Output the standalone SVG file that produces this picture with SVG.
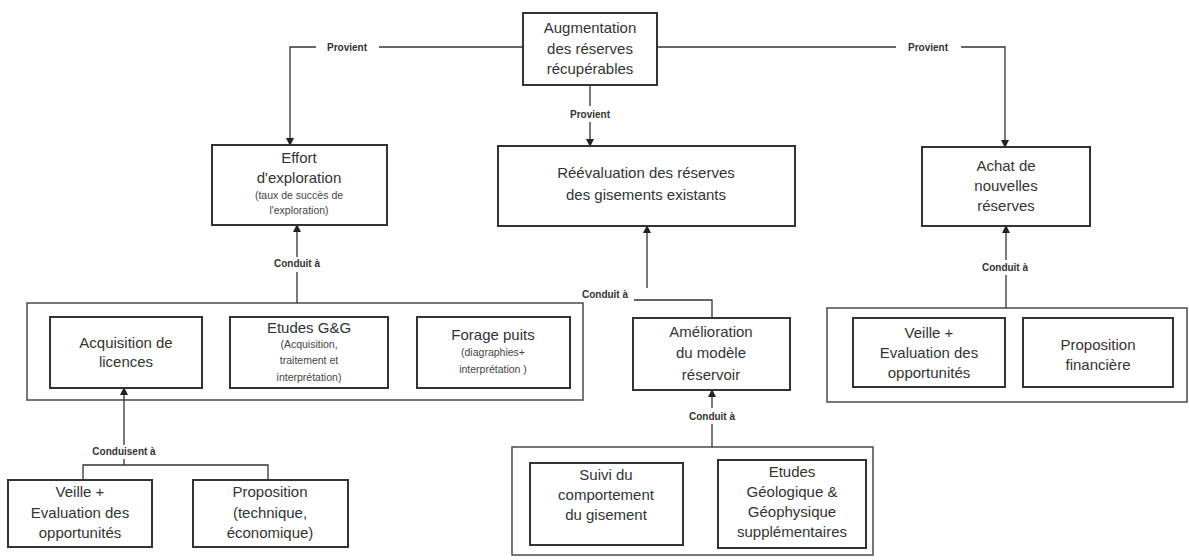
<svg xmlns="http://www.w3.org/2000/svg" width="1189" height="560" viewBox="0 0 1189 560">
<style>
.box{fill:#fff;stroke:#333;stroke-width:2}
.grp{fill:none;stroke:#555;stroke-width:1.6}
.t{font-family:"Liberation Sans",Arial,sans-serif;font-size:15px;fill:#333;text-anchor:middle}
.s{font-family:"Liberation Sans",Arial,sans-serif;font-size:10.5px;fill:#444;text-anchor:middle}
.lbl{font-family:"Liberation Sans",Arial,sans-serif;font-size:10px;font-weight:bold;fill:#333;text-anchor:middle}
.ln{fill:none;stroke:#333;stroke-width:1.3}
</style>
<defs>
<marker id="ah" markerWidth="8" markerHeight="8" refX="7" refY="4" orient="auto" markerUnits="userSpaceOnUse">
<path d="M0,0 L8,4 L0,8 z" fill="#222"/>
</marker>
</defs>
<rect width="1189" height="560" fill="#fff"/>

<g id="g-left">
<rect class="grp" x="27" y="303" width="556" height="97"/>
</g>
<g id="g-middle">
<rect class="grp" x="512" y="447" width="361" height="108"/>
</g>
<g id="g-right">
<rect class="grp" x="827" y="308" width="360" height="94"/>
</g>

<g id="connectors">
<polyline class="ln" points="523,47 379,47"/>
<polyline class="ln" points="316,47 290,47 290,145" marker-end="url(#ah)"/>
<polyline class="ln" points="657,47 896,47"/>
<polyline class="ln" points="961,47 1005,47 1005,147" marker-end="url(#ah)"/>
<polyline class="ln" points="590,85 590,106"/>
<polyline class="ln" points="590,122 590,146" marker-end="url(#ah)"/>
<polyline class="ln" points="297,303 297,272"/>
<polyline class="ln" points="297,257 297,225" marker-end="url(#ah)"/>
<polyline class="ln" points="712,318 712,300 634,300"/>
<polyline class="ln" points="647,288 647,226" marker-end="url(#ah)"/>
<polyline class="ln" points="712,447 712,424"/>
<polyline class="ln" points="712,408 712,390" marker-end="url(#ah)"/>
<polyline class="ln" points="1006,308 1006,275"/>
<polyline class="ln" points="1006,260 1006,226" marker-end="url(#ah)"/>
<polyline class="ln" points="124,445 124,388" marker-end="url(#ah)"/>
<polyline class="ln" points="83,480 83,465 268,465 268,480"/>
<polyline class="ln" points="124,459 124,465"/>
<text class="lbl" x="347" y="51">Provient</text>
<text class="lbl" x="928" y="51">Provient</text>
<text class="lbl" x="590" y="118">Provient</text>
<text class="lbl" x="297" y="267">Conduit à</text>
<text class="lbl" x="605" y="298">Conduit à</text>
<text class="lbl" x="712" y="420">Conduit à</text>
<text class="lbl" x="1005" y="271">Conduit à</text>
<text class="lbl" x="124" y="455">Conduisent à</text>
</g>

<g id="n-augmentation">
<rect class="box" x="523" y="13" width="134" height="72"/>
<text class="t" x="590" y="33">Augmentation</text>
<text class="t" x="590" y="54">des réserves</text>
<text class="t" x="590" y="74">récupérables</text>
</g>

<g id="n-effort">
<rect class="box" x="212" y="145" width="175" height="80"/>
<text class="t" x="299" y="163">Effort</text>
<text class="t" x="299" y="183">d'exploration</text>
<text class="s" x="299" y="199">(taux de succès de</text>
<text class="s" x="299" y="214">l'exploration)</text>
</g>

<g id="n-reevaluation">
<rect class="box" x="498" y="146" width="297" height="80"/>
<text class="t" x="646" y="178">Réévaluation des réserves</text>
<text class="t" x="646" y="200">des gisements existants</text>
</g>

<g id="n-achat">
<rect class="box" x="922" y="147" width="168" height="79"/>
<text class="t" x="1006" y="171">Achat de</text>
<text class="t" x="1006" y="191">nouvelles</text>
<text class="t" x="1006" y="211">réserves</text>
</g>

<g id="n-acquisition">
<rect class="box" x="50" y="317" width="152" height="71"/>
<text class="t" x="126" y="348">Acquisition de</text>
<text class="t" x="126" y="367">licences</text>
</g>
<g id="n-etudes-gg">
<rect class="box" x="230" y="317" width="158" height="71"/>
<text class="t" x="309" y="333">Etudes G&amp;G</text>
<text class="s" x="309" y="348">(Acquisition,</text>
<text class="s" x="309" y="364">traitement et</text>
<text class="s" x="309" y="381">interprétation)</text>
</g>
<g id="n-forage">
<rect class="box" x="417" y="317" width="153" height="71"/>
<text class="t" x="493" y="340">Forage puits</text>
<text class="s" x="493" y="356">(diagraphies+</text>
<text class="s" x="493" y="373">interprétation )</text>
</g>

<g id="n-veille-left">
<rect class="box" x="8" y="480" width="144" height="67"/>
<text class="t" x="80" y="497">Veille +</text>
<text class="t" x="80" y="518">Evaluation des</text>
<text class="t" x="80" y="538">opportunités</text>
</g>
<g id="n-proposition-tech">
<rect class="box" x="193" y="480" width="155" height="67"/>
<text class="t" x="270" y="497">Proposition</text>
<text class="t" x="270" y="518">(technique,</text>
<text class="t" x="270" y="538">économique)</text>
</g>

<g id="n-amelioration">
<rect class="box" x="633" y="318" width="157" height="72"/>
<text class="t" x="711" y="337">Amélioration</text>
<text class="t" x="711" y="358">du modèle</text>
<text class="t" x="711" y="380">réservoir</text>
</g>

<g id="n-suivi">
<rect class="box" x="530" y="463" width="153" height="82"/>
<text class="t" x="606" y="480">Suivi du</text>
<text class="t" x="606" y="500">comportement</text>
<text class="t" x="606" y="520">du gisement</text>
</g>
<g id="n-etudes-geo">
<rect class="box" x="718" y="460" width="148" height="88"/>
<text class="t" x="792" y="477">Etudes</text>
<text class="t" x="792" y="497">Géologique &amp;</text>
<text class="t" x="792" y="517">Géophysique</text>
<text class="t" x="792" y="537">supplémentaires</text>
</g>

<g id="n-veille-right">
<rect class="box" x="853" y="318" width="152" height="69"/>
<text class="t" x="929" y="338">Veille +</text>
<text class="t" x="929" y="358">Evaluation des</text>
<text class="t" x="929" y="378">opportunités</text>
</g>
<g id="n-proposition-fin">
<rect class="box" x="1023" y="318" width="150" height="69"/>
<text class="t" x="1098" y="350">Proposition</text>
<text class="t" x="1098" y="370">financière</text>
</g>
</svg>
